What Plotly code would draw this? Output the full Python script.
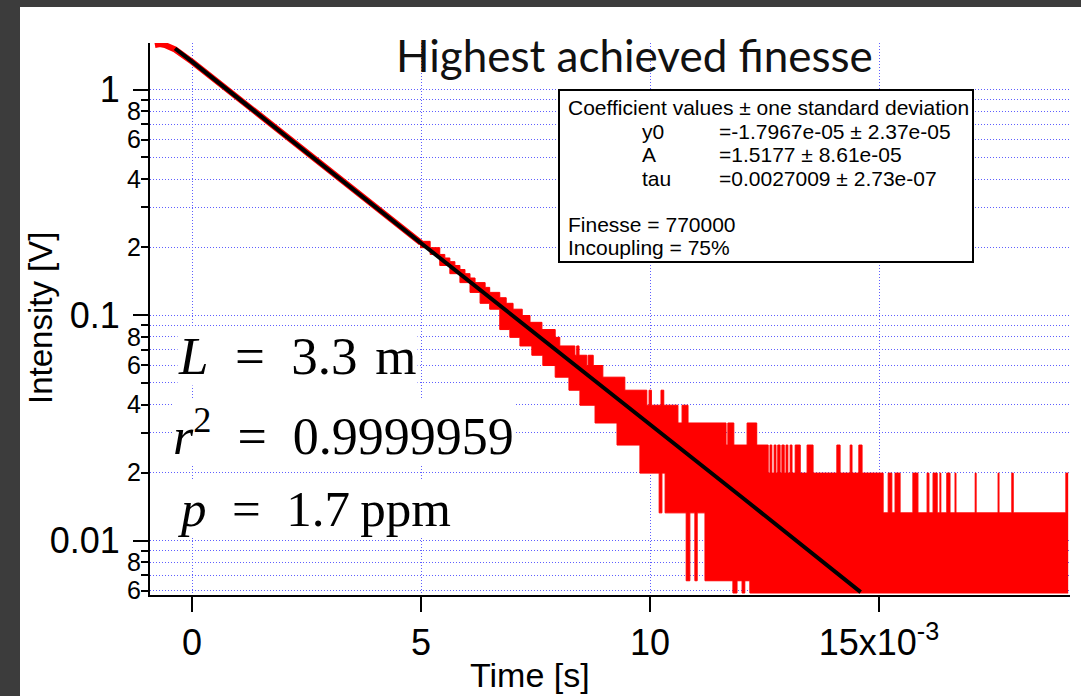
import numpy as np
import plotly.graph_objects as go

# ---------------- data (time in ms, intensity in V) ----------------
# early part of the measured ring-down (thin trace under the fit)
signal_t_ms = [-0.81, -0.70, -0.59, -0.48, -0.37, 0.0, 1.0, 2.0, 3.0, 4.0, 5.0]
signal_v = [1.575, 1.59, 1.575, 1.544, 1.505, 1.33, 0.915, 0.633, 0.437, 0.302, 0.209]

# quantised noisy tail: upper envelope (step shape)
upper_t_ms = [4.98, 5.20, 5.41, 5.52, 5.63, 5.74, 5.85, 5.96, 6.07, 6.18, 6.40, 6.50, 6.72,
              6.86, 7.01, 7.21, 7.38, 7.64, 7.93, 8.03, 8.36, 8.40, 8.45, 8.62, 8.65, 8.76,
              8.97, 9.45, 9.93, 9.98, 10.03, 10.24, 10.30, 10.61, 10.70, 10.83, 11.66, 11.70,
              11.83, 12.12, 12.33, 12.58,
              12.62, 12.66, 12.71, 12.75, 12.79, 12.84, 12.88, 12.93, 12.97, 13.01, 13.06, 13.10,
              13.17, 13.28, 13.43, 13.56, 14.08, 14.15, 14.37, 14.41, 14.56, 14.63,
              15.09, 15.20, 15.28, 15.35, 15.46, 15.74, 15.85, 16.05, 16.09, 16.18, 16.27,
              16.33, 16.35, 16.48, 16.55, 16.66, 16.68, 17.10, 17.12, 17.60, 17.62, 17.90,
              17.93, 19.08, 19.13]
upper_v = [0.2122, 0.1989, 0.1856, 0.1790, 0.1724, 0.1658, 0.1591, 0.1525, 0.1459, 0.1392,
           0.1326, 0.1260, 0.1193, 0.1127, 0.1061, 0.0995, 0.0928, 0.0862, 0.0796, 0.0729,
           0.0663, 0.0729, 0.0663, 0.0597, 0.0663, 0.0597, 0.0530, 0.0464, 0.0398, 0.0464,
           0.0398, 0.0464, 0.0398, 0.0332, 0.0398, 0.0332, 0.0265, 0.0332, 0.0265, 0.0332,
           0.0265, 0.0199,
           0.0265, 0.0199, 0.0265, 0.0199, 0.0265, 0.0199, 0.0265, 0.0199, 0.0265, 0.0199,
           0.0265, 0.0199, 0.0265, 0.0199, 0.0265, 0.0199, 0.0265, 0.0199, 0.0265, 0.0199,
           0.0265, 0.0199,
           0.01326, 0.0199, 0.01326, 0.0199, 0.01326, 0.0199, 0.01326, 0.0199, 0.01326,
           0.0199, 0.01326, 0.0199, 0.01326, 0.0199, 0.01326, 0.0199, 0.01326, 0.0199,
           0.01326, 0.0199, 0.01326, 0.0199, 0.01326, 0.0199, 0.0199]

# lower envelope (values at the bottom are clipped at the axis floor)
lower_t_ms = [4.98, 5.20, 5.41, 5.63, 5.85, 6.07, 6.29, 6.50, 6.72, 6.94, 7.16, 7.42, 7.66,
              7.93, 8.23, 8.47, 8.80, 9.28, 9.78, 10.20, 10.26, 10.33, 10.79, 10.87, 10.98,
              11.03, 11.20, 11.81, 11.90, 12.01, 12.07, 12.18, 19.13]
lower_v = [0.1989, 0.1856, 0.1658, 0.1525, 0.1392, 0.1260, 0.1127, 0.1061, 0.0862, 0.0796,
           0.0729, 0.0663, 0.0597, 0.0530, 0.0464, 0.0398, 0.0332, 0.0265, 0.0199, 0.01326,
           0.0199, 0.01326, 0.00663, 0.01326, 0.00663, 0.01326, 0.00663, 0.00585, 0.00663,
           0.00585, 0.00663, 0.00585, 0.00585]

# exponential fit curve
fit_t_ms = [-0.37, 0.0, 2.0, 4.0, 6.0, 8.0, 10.0, 12.0, 14.6]
fit_v = [1.52, 1.33, 0.633, 0.302, 0.144, 0.0686, 0.0327, 0.0156, 0.00590]

# axes ticks
x_tick_ms = [0, 5, 10, 15]
x_tick_text = ['0', '5', '10', '15x10<sup>-3</sup>']
y_major_vals = [0.01, 0.1, 1]
y_major_text = ['0.01', '0.1', '1']
y_minor_vals = [0.006, 0.007, 0.008, 0.009,
                0.02, 0.03, 0.04, 0.05, 0.06, 0.07, 0.08, 0.09,
                0.2, 0.3, 0.4, 0.5, 0.6, 0.7, 0.8, 0.9]
y_minor_lab_vals = [0.006, 0.008, 0.02, 0.04, 0.06, 0.08, 0.2, 0.4, 0.6, 0.8]
y_minor_lab_text = ['6', '8', '2', '4', '6', '8', '2', '4', '6', '8']

coef_names = ['y0', 'A', 'tau']
coef_values = ['=-1.7967e-05 ± 2.37e-05', '=1.5177 ± 8.61e-05', '=0.0027009 ± 2.73e-07']

x_range_s = [-0.917e-3, 19.17e-3]
y_range_v = [0.005732, 1.608]

ms = 1e-3

# ---------------- figure ----------------
W, H = 1081, 696
L, R, T, B = 150, 11, 43, 101
PW, PH = W - L - R, H - T - B


def px(x):
    return (x - L) / PW


def py(y):
    return (H - B - y) / PH


fig = go.Figure()

fig.add_trace(go.Scatter(x=np.array(lower_t_ms) * ms, y=lower_v, mode='lines',
                         line=dict(color='#ff0000', width=1, shape='hv'),
                         hoverinfo='skip', showlegend=False))
fig.add_trace(go.Scatter(x=np.array(upper_t_ms) * ms, y=upper_v, mode='lines',
                         line=dict(color='#ff0000', width=1, shape='hv'),
                         fill='tonexty', fillcolor='#ff0000',
                         hoverinfo='skip', showlegend=False))
fig.add_trace(go.Scatter(x=np.array(signal_t_ms) * ms, y=signal_v, mode='lines',
                         line=dict(color='#ff0000', width=6),
                         hoverinfo='skip', showlegend=False))
fig.add_trace(go.Scatter(x=np.array(fit_t_ms) * ms, y=fit_v, mode='lines',
                         line=dict(color='#000000', width=4),
                         hoverinfo='skip', showlegend=False))
fig.add_trace(go.Scatter(x=[None], y=[None], yaxis='y2', mode='markers',
                         hoverinfo='skip', showlegend=False))

GRID = 'rgb(95,95,255)'
DASH = '1px,2px'
FONT = 'Liberation Sans, Arial, sans-serif'

fig.update_layout(
    width=W, height=H,
    margin=dict(l=L, r=R, t=T, b=B, pad=0),
    paper_bgcolor='#3c3c3c', plot_bgcolor='white',
    showlegend=False,
    xaxis=dict(range=x_range_s, tickvals=[v * ms for v in x_tick_ms], ticktext=x_tick_text,
               ticks='outside', ticklen=15, tickwidth=2, tickcolor='black',
               showline=True, linecolor='black', linewidth=2, zeroline=False,
               showgrid=True, gridcolor=GRID, griddash=DASH, gridwidth=1,
               tickfont=dict(family=FONT, size=36, color='black')),
    yaxis=dict(type='log', range=[np.log10(y_range_v[0]), np.log10(y_range_v[1])],
               tickvals=y_major_vals, ticktext=y_major_text,
               ticks='outside', ticklen=15, tickwidth=2, tickcolor='black',
               showline=True, linecolor='black', linewidth=2, zeroline=False,
               showgrid=True, gridcolor=GRID, griddash=DASH, gridwidth=1,
               ticklabelstandoff=6,
               minor=dict(tickvals=y_minor_vals, ticks='outside', ticklen=7, tickwidth=2,
                          tickcolor='black', showgrid=True, gridcolor=GRID,
                          griddash=DASH, gridwidth=1),
               tickfont=dict(family=FONT, size=36, color='black')),
    yaxis2=dict(type='log', overlaying='y', side='left', anchor='x',
                range=[np.log10(y_range_v[0]), np.log10(y_range_v[1])],
                tickvals=y_minor_lab_vals, ticktext=y_minor_lab_text,
                ticks='outside', ticklen=3, tickwidth=2, tickcolor='rgba(0,0,0,0)',
                showline=False, showgrid=False, zeroline=False,
                tickfont=dict(family=FONT, size=25, color='black')),
)

shapes = [
    # white slide panel
    dict(type='rect', xref='paper', yref='paper', x0=px(20), x1=px(1085), y0=py(700), y1=py(7),
         fillcolor='white', line=dict(width=0), layer='below'),
    # coefficient box
    dict(type='rect', xref='paper', yref='paper', x0=px(559), x1=px(973), y0=py(262), y1=py(90),
         fillcolor='white', line=dict(color='black', width=2), layer='above'),
]
fig.update_layout(shapes=shapes)

ann = []


def add_text(text, x, y, size, family=FONT, xanchor='left', yanchor='middle', angle=0,
             bg=None, color='black'):
    d = dict(text=text, x=px(x), y=py(y), xref='paper', yref='paper', showarrow=False,
             xanchor=xanchor, yanchor=yanchor, textangle=angle,
             font=dict(family=family, size=size, color=color))
    if bg:
        d['bgcolor'] = bg
        d['borderpad'] = 0
    ann.append(d)


add_text('Highest achieved finesse', 634, 55, 44, family='Lato, Open Sans, sans-serif',
         xanchor='center', color='#111111')
add_text('Intensity [V]', 40, 318, 33, xanchor='center', angle=-90)
add_text('Time [s]', 530, 675, 34, xanchor='center')

# coefficient box text
CF = 21
add_text('Coefficient values ± one standard deviation', 566, 108, CF)
for i, (n, v) in enumerate(zip(coef_names, coef_values)):
    add_text(n, 640, 131.5 + 23.3 * i, CF)
    add_text(v, 717, 131.5 + 23.3 * i, CF)
add_text('Finesse = 770000', 566, 224, CF)
add_text('Incoupling = 75%', 566, 247, CF)

SERIF = 'Liberation Serif, DejaVu Serif, serif'
NB = '\u2002'
add_text('<i>L</i>' + NB + '=' + NB + '3.3' + '\u2004' + 'm', 177, 356, 53, family=SERIF, bg='white')
add_text('<i>r</i><sup>2</sup>' + NB + '=' + NB + '0.9999959', 172, 432, 52, family=SERIF, bg='white')
add_text('<i>p</i>' + NB + '=' + NB + '1.7' + '\u2009' + 'ppm', 177, 509, 51, family=SERIF, bg='white')

fig.update_layout(annotations=ann)

fig.write_html('out.html')
